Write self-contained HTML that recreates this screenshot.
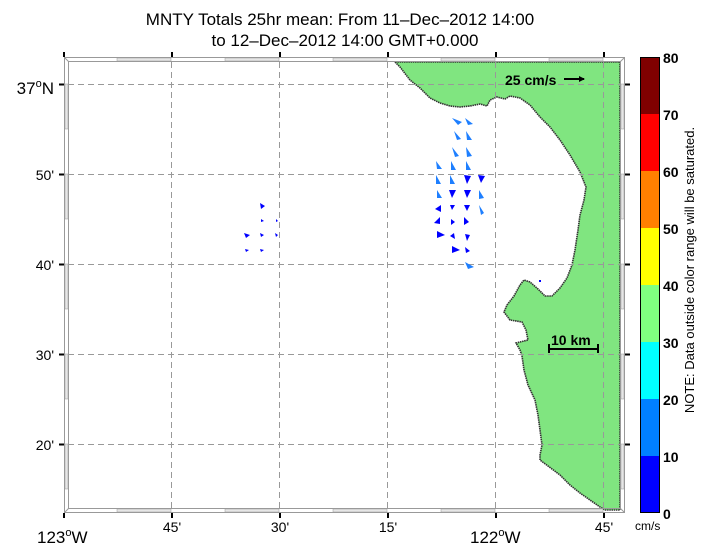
<!DOCTYPE html>
<html><head><meta charset="utf-8"><style>
html,body{margin:0;padding:0;background:#fff;}
svg{display:block;font-family:"Liberation Sans",Arial,sans-serif;}
</style></head><body>
<svg width="703" height="548" viewBox="0 0 703 548" xmlns="http://www.w3.org/2000/svg">
<defs>
<marker id="ah" markerWidth="6" markerHeight="6" refX="5" refY="3" orient="auto" markerUnits="userSpaceOnUse"><path d="M0,0 L6,3 L0,6 z" fill="#000"/></marker>
</defs>
<text x="340" y="25" font-size="17" text-anchor="middle">MNTY Totals 25hr mean: From 11–Dec–2012 14:00</text>
<text x="345" y="46" font-size="17" text-anchor="middle">to 12–Dec–2012 14:00 GMT+0.000</text>

<!-- land -->
<path d="M395,62 L400,67 L410,80 L420,88 L430,98 L440,103 L450,106 L460,107 L470,106 L480,104 L487,106 L490,100 L497,97 L505,99 L510,96 L520,98 L530,105 L540,117 L550,127 L560,140 L570,155 L580,172 L586,187 L584,200 L580,215 L578,230 L575,250 L572,265 L567,278 L560,288 L552,296 L545,296 L538,289 L530,282 L524,280 L520,285 L514,296 L507,305 L504,312 L510,320 L522,322 L526,330 L528,340 L520,342 L516,343 L520,350 L522,356 L524,370 L528,385 L535,400 L538,415 L540,430 L542,445 L540,455 L540,460 L548,466 L560,475 L570,485 L580,493 L590,500 L600,507 L605,510 L620,510 L620,62 Z" fill="#80e580" stroke="#333" stroke-width="1.6" stroke-dasharray="1.5 0.7"/>

<!-- grid -->
<g stroke="#999" stroke-width="1" stroke-dasharray="6 4">
<line x1="171.5" y1="62" x2="171.5" y2="510"/>
<line x1="279.5" y1="62" x2="279.5" y2="510"/>
<line x1="387.5" y1="62" x2="387.5" y2="510"/>
<line x1="495.5" y1="62" x2="495.5" y2="510"/>
<line x1="603.5" y1="62" x2="603.5" y2="510"/>
<line x1="68" y1="84.5" x2="620" y2="84.5"/>
<line x1="68" y1="174.5" x2="620" y2="174.5"/>
<line x1="68" y1="264.5" x2="620" y2="264.5"/>
<line x1="68" y1="354.5" x2="620" y2="354.5"/>
<line x1="68" y1="444.5" x2="620" y2="444.5"/>
</g>

<!-- frame -->
<g fill="none" stroke="#999" stroke-width="1">
<rect x="64.5" y="57.5" width="560" height="455"/>
<rect x="68.5" y="61.5" width="552" height="447"/>
<line x1="64.5" y1="57.5" x2="68.5" y2="61.5"/><line x1="624.5" y1="57.5" x2="620.5" y2="61.5"/>
<line x1="64.5" y1="512.5" x2="68.5" y2="508.5"/><line x1="624.5" y1="512.5" x2="620.5" y2="508.5"/>
</g>
<g fill="#e6e6e6" stroke="#999" stroke-width="0.5">
<rect x="117" y="58" width="54" height="3"/><rect x="225" y="58" width="54" height="3"/><rect x="333" y="58" width="54" height="3"/><rect x="441" y="58" width="54" height="3"/><rect x="549" y="58" width="54" height="3"/>
<rect x="117" y="509" width="54" height="3"/><rect x="225" y="509" width="54" height="3"/><rect x="333" y="509" width="54" height="3"/><rect x="441" y="509" width="54" height="3"/><rect x="549" y="509" width="54" height="3"/>
<rect x="65" y="84" width="3" height="45"/><rect x="65" y="174" width="3" height="45"/><rect x="65" y="264" width="3" height="45"/><rect x="65" y="354" width="3" height="45"/><rect x="65" y="444" width="3" height="45"/>
<rect x="621" y="84" width="3" height="45"/><rect x="621" y="174" width="3" height="45"/><rect x="621" y="264" width="3" height="45"/><rect x="621" y="354" width="3" height="45"/><rect x="621" y="444" width="3" height="45"/>
</g>
<g stroke="#000" stroke-width="2">
<line x1="64" y1="52" x2="64" y2="57"/><line x1="172" y1="52" x2="172" y2="57"/><line x1="280" y1="52" x2="280" y2="57"/><line x1="388" y1="52" x2="388" y2="57"/><line x1="496" y1="52" x2="496" y2="57"/><line x1="604" y1="52" x2="604" y2="57"/>
<line x1="64" y1="513" x2="64" y2="518"/><line x1="172" y1="513" x2="172" y2="518"/><line x1="280" y1="513" x2="280" y2="518"/><line x1="388" y1="513" x2="388" y2="518"/><line x1="496" y1="513" x2="496" y2="518"/><line x1="604" y1="513" x2="604" y2="518"/>
<line x1="59" y1="84.5" x2="64" y2="84.5"/><line x1="59" y1="174.5" x2="64" y2="174.5"/><line x1="59" y1="264.5" x2="64" y2="264.5"/><line x1="59" y1="354.5" x2="64" y2="354.5"/><line x1="59" y1="444.5" x2="64" y2="444.5"/>
<line x1="625" y1="84.5" x2="630" y2="84.5"/><line x1="625" y1="174.5" x2="630" y2="174.5"/><line x1="625" y1="264.5" x2="630" y2="264.5"/><line x1="625" y1="354.5" x2="630" y2="354.5"/><line x1="625" y1="444.5" x2="630" y2="444.5"/>
</g>

<!-- axis labels -->
<g font-size="14">
<text x="54" y="94" text-anchor="end" font-size="17">37<tspan font-size="11" dy="-7">o</tspan><tspan dy="7">N</tspan></text>
<text x="54" y="180" text-anchor="end">50'</text>
<text x="54" y="270" text-anchor="end">40'</text>
<text x="54" y="360" text-anchor="end">30'</text>
<text x="54" y="450" text-anchor="end">20'</text>
<text x="37" y="543" font-size="17">123<tspan font-size="11" dy="-7">o</tspan><tspan dy="7">W</tspan></text>
<text x="172" y="532" text-anchor="middle">45'</text>
<text x="280" y="532" text-anchor="middle">30'</text>
<text x="388" y="532" text-anchor="middle">15'</text>
<text x="470" y="543" font-size="17">122<tspan font-size="11" dy="-7">o</tspan><tspan dy="7">W</tspan></text>
<text x="604" y="532" text-anchor="middle">45'</text>
</g>

<!-- scale annotations -->
<text x="505" y="85" font-size="14" font-weight="bold">25 cm/s</text>
<line x1="564" y1="79" x2="584" y2="79" stroke="#000" stroke-width="2" marker-end="url(#ah)"/>
<text x="551" y="345" font-size="14" font-weight="bold">10 km</text>
<g stroke="#000" stroke-width="2"><line x1="549" y1="349" x2="598" y2="349"/><line x1="549" y1="344" x2="549" y2="353"/><line x1="598" y1="344" x2="598" y2="353"/></g>

<!-- vectors -->
<g fill="#1e7fff">
<polygon points="452,118 462,122 458,125"/><polygon points="465,118 473,124 468,125"/>
<polygon points="454,131 461,139 457,140"/><polygon points="466,131 472,140 467,140"/>
<polygon points="452,147 459,156 455,157"/><polygon points="466,147 472,156 467,157"/>
<polygon points="436,161 442,169 437,169"/><polygon points="451,161 456,170 451,170"/><polygon points="466,161 471,170 466,170"/>
<polygon points="436,175 441,184 436,184"/><polygon points="450,175 455,184 450,184"/>
<polygon points="437,190 442,198 437,198"/><polygon points="479,190 484,198 479,199"/>
<polygon points="479,205 484,213 481,215"/>
<polygon points="465,262 474,267 468,269"/>
</g>
<g fill="#0000ff">
<polygon points="464,175 471,176 467,184"/><polygon points="478,175 485,176 481,183"/>
<polygon points="449,190 456,190 452,198"/><polygon points="464,190 471,190 467,198"/>
<polygon points="435,209 441,205 441,212"/><polygon points="450,205 455,205 452,210"/><polygon points="464,205 470,205 467,211"/>
<polygon points="434,223 440,217 440,224"/><polygon points="451,219 455,222 451,225"/><polygon points="464,217 469,222 464,225"/>
<polygon points="437,231 445,235 437,238"/><polygon points="450,236 454,233 455,239"/><polygon points="465,234 470,235 467,241"/>
<polygon points="452,246 460,250 452,253"/><polygon points="465,247 470,251 466,253"/>
<polygon points="260,203 265,206 261,209"/><polygon points="261,219 264,221 261,222"/><polygon points="276,219 278,221 276,222"/>
<polygon points="244,233 250,235 246,238"/><polygon points="260,233 264,235 261,237"/><polygon points="275,233 278,235 276,237"/>
<polygon points="245,249 249,250 246,252"/><polygon points="260,249 264,250 261,252"/>
<rect x="539" y="280" width="2" height="2"/>
</g>

<!-- colorbar -->
<rect x="640" y="57" width="20" height="57" fill="#800000"/>
<rect x="640" y="114" width="20" height="57" fill="#ff0000"/>
<rect x="640" y="171" width="20" height="57" fill="#ff8000"/>
<rect x="640" y="228" width="20" height="57" fill="#ffff00"/>
<rect x="640" y="285" width="20" height="57" fill="#80ff80"/>
<rect x="640" y="342" width="20" height="57" fill="#00ffff"/>
<rect x="640" y="399" width="20" height="57" fill="#0080ff"/>
<rect x="640" y="456" width="20" height="57" fill="#0000ff"/>
<rect x="640.5" y="57.5" width="19" height="455" fill="none" stroke="#000" stroke-width="1"/>
<g font-size="14" font-weight="bold">
<text x="663" y="63">80</text><text x="663" y="120">70</text><text x="663" y="177">60</text><text x="663" y="234">50</text>
<text x="663" y="291">40</text><text x="663" y="348">30</text><text x="663" y="405">20</text><text x="663" y="462">10</text><text x="663" y="519">0</text>
</g>
<text x="635" y="530" font-size="12">cm/s</text>
<text transform="translate(694,270) rotate(-90)" font-size="13" text-anchor="middle">NOTE: Data outside color range will be saturated.</text>
</svg>
</body></html>
